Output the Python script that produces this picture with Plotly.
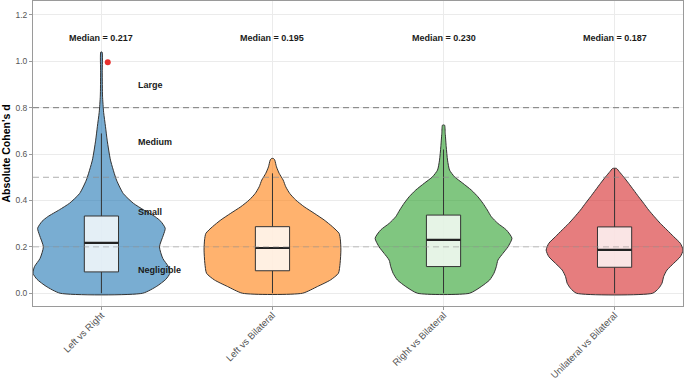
import plotly.graph_objects as go
import numpy as np

# ---------------- data ----------------
categories = ["Left vs Right", "Left vs Bilateral", "Right vs Bilateral", "Unilateral vs Bilateral"]
positions = [1, 2, 3, 4]

# violin density profiles (value grid and relative density)
dens_y_lr = [0, 0.03, 0.06, 0.086, 0.115, 0.15, 0.2, 0.25, 0.28, 0.31, 0.33, 0.36, 0.388, 0.43, 0.488, 0.574, 0.66, 0.72, 0.78, 0.85, 0.95, 1.04]
dens_w_lr = [41, 55, 64, 68, 66.5, 61, 57.7, 61.5, 63.4, 59, 53.4, 41.7, 31.7, 21.7, 15, 9, 5.7, 4, 2.2, 1.1, 0.8, 0.6]

dens_y_lb = [0, 0.029, 0.057, 0.086, 0.129, 0.186, 0.23, 0.258, 0.287, 0.316, 0.345, 0.373, 0.402, 0.43, 0.459, 0.488, 0.517, 0.545, 0.574, 0.581]
dens_w_lb = [30, 45, 58, 66, 67.7, 68.5, 68, 66.7, 60, 51.7, 41.7, 31.7, 23.3, 17.3, 13.3, 10.7, 6.7, 4, 2.3, 1]

dens_y_rb = [0, 0.029, 0.057, 0.086, 0.115, 0.143, 0.172, 0.2, 0.237, 0.273, 0.301, 0.33, 0.359, 0.388, 0.416, 0.445, 0.474, 0.502, 0.531, 0.574, 0.631, 0.689, 0.725]
dens_w_rb = [26, 37.7, 46, 50.3, 52.7, 54.3, 59.3, 64.3, 68.3, 62.7, 54.3, 47.7, 43.7, 39.3, 34.3, 27.7, 19.3, 11, 6, 4, 2.7, 1.7, 1]

dens_y_ub = [0, 0.021, 0.043, 0.072, 0.1, 0.129, 0.158, 0.186, 0.215, 0.244, 0.273, 0.301, 0.33, 0.359, 0.388, 0.416, 0.445, 0.474, 0.502, 0.524, 0.538]
dens_w_ub = [38, 44, 47.3, 49, 52.3, 59, 65.7, 68.3, 65.7, 59, 52.3, 45.7, 39.7, 34, 29, 24, 19, 14, 9, 4.7, 2]

# box statistics
q1 = [0.092, 0.097, 0.115, 0.112]
median = [0.217, 0.195, 0.230, 0.187]
q3 = [0.333, 0.287, 0.337, 0.286]
lower_fence = [0.0, 0.0, 0.0, 0.0]
upper_fence = [0.689, 0.517, 0.62, 0.538]

median_labels = ["Median = 0.217", "Median = 0.195", "Median = 0.230", "Median = 0.187"]

# highlighted outlier
outlier_category = [1]
outlier_value = [0.996]

# effect size thresholds
threshold_values = [0.2, 0.5, 0.8]
effect_labels = ["Negligible", "Small", "Medium", "Large"]
effect_label_y = [0.1, 0.35, 0.65, 0.9]

y_ticks = [0.0, 0.2, 0.4, 0.6, 0.8, 1.0, 1.2]

# ---------------- styling ----------------
fill_colors = ["rgba(31,119,180,0.6)", "rgba(255,127,14,0.6)", "rgba(44,160,44,0.6)", "rgba(214,39,40,0.6)"]
outline = "#333333"
half_width = 0.4
box_width = 0.2
jitter = 0.037
font_family = "Liberation Sans, Arial, sans-serif"

profiles = [(dens_y_lr, dens_w_lr), (dens_y_lb, dens_w_lb), (dens_y_rb, dens_w_rb), (dens_y_ub, dens_w_ub)]

fig = go.Figure()

for pos, (yy, ww), col in zip(positions, profiles, fill_colors):
    yy = np.array(yy, dtype=float)
    ww = np.array(ww, dtype=float)
    hw = half_width * ww / ww.max()
    xs = np.concatenate([pos - hw, (pos + hw)[::-1], [pos - hw[0]]])
    ys = np.concatenate([yy, yy[::-1], [yy[0]]])
    fig.add_trace(go.Scatter(x=xs, y=ys, mode="lines", fill="toself", fillcolor=col,
                             line=dict(color=outline, width=1, shape="spline", smoothing=0.6),
                             hoverinfo="skip", showlegend=False))

bw = box_width / 2
for i, pos in enumerate(positions):
    # whiskers
    fig.add_trace(go.Scatter(x=[pos, pos, None, pos, pos],
                             y=[lower_fence[i], q1[i], None, q3[i], upper_fence[i]],
                             mode="lines", line=dict(color=outline, width=1),
                             hoverinfo="skip", showlegend=False))
    # box
    fig.add_trace(go.Scatter(x=[pos - bw, pos + bw, pos + bw, pos - bw, pos - bw],
                             y=[q1[i], q1[i], q3[i], q3[i], q1[i]],
                             mode="lines", fill="toself", fillcolor="rgba(255,255,255,0.8)",
                             line=dict(color=outline, width=1),
                             hoverinfo="skip", showlegend=False))
    # median
    fig.add_trace(go.Scatter(x=[pos - bw, pos + bw], y=[median[i], median[i]],
                             mode="lines", line=dict(color="#222222", width=2.2),
                             hoverinfo="skip", showlegend=False))

fig.add_trace(go.Scatter(x=[c + jitter for c in outlier_category], y=outlier_value, mode="markers",
                         marker=dict(color="#e8302d", size=6), showlegend=False))

# threshold lines
thr_colors = ["rgba(150,150,150,0.6)", "rgba(140,140,140,0.7)", "rgba(100,100,100,0.85)"]
for v, c in zip(threshold_values, thr_colors):
    fig.add_hline(y=v, line=dict(color=c, width=1, dash="6px,4px"), layer="above")

# median labels
for pos, lab in zip(positions, median_labels):
    fig.add_annotation(x=pos, y=1.1, text=f"<b>{lab}</b>", showarrow=False,
                       font=dict(size=9, color="#1a1a1a", family=font_family))

for lab, yv in zip(effect_labels, effect_label_y):
    fig.add_annotation(x=1.2, y=yv, text=f"<b>{lab}</b>", showarrow=False, xanchor="left",
                       font=dict(size=9, color="#1a1a1a", family=font_family))

fig.update_layout(
    width=685, height=382,
    margin=dict(l=33, r=2, t=1, b=76, autoexpand=False),
    paper_bgcolor="white", plot_bgcolor="white",
    font=dict(family=font_family),
    showlegend=False,
    xaxis=dict(range=[0.6, 4.4], tickvals=positions, ticktext=categories, tickangle=-45,
               showgrid=True, gridcolor="#ebebeb", gridwidth=1, zeroline=False,
               showline=True, linecolor="#9a9a9a", linewidth=1, mirror=True,
               ticks="outside", ticklen=3, tickcolor="#9a9a9a", automargin=False,
               ticklabelstandoff=-4,
               tickfont=dict(size=9.5, color="#555555")),
    yaxis=dict(range=[-0.055, 1.26], tickvals=y_ticks, tickformat=".1f",
               showgrid=True, gridcolor="#ebebeb", gridwidth=1, zeroline=False,
               showline=True, linecolor="#9a9a9a", linewidth=1, mirror=True,
               ticks="outside", ticklen=3, tickcolor="#9a9a9a", automargin=False,
               tickfont=dict(size=8.5, color="#555555"),
               title=dict(text="<b>Absolute Cohen's d</b>", font=dict(size=10.5, color="#000000"), standoff=4)),
)

fig.write_html("out.html", config={"displayModeBar": False},
               post_script="document.body.style.margin='0';document.body.style.overflow='hidden';")
